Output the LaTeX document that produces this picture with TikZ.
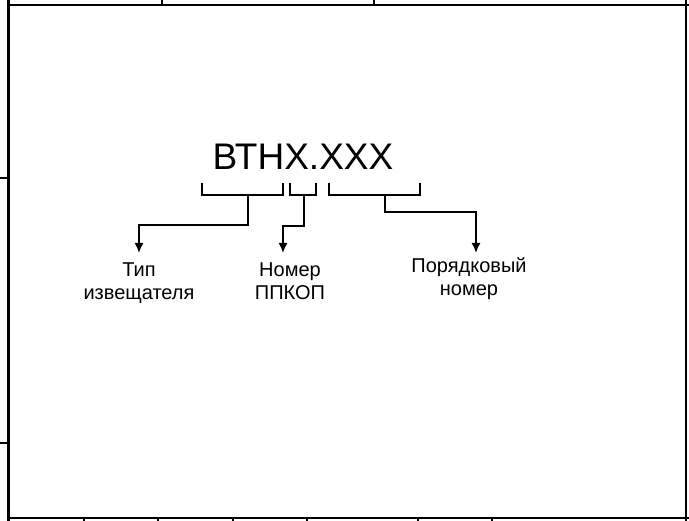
\documentclass[tikz,border=0pt]{standalone}
\usepackage{fontspec}
\setmainfont{Liberation Sans}
\usetikzlibrary{arrows.meta}
\begin{document}
\begin{tikzpicture}[x=1pt,y=-1pt,
  frameline/.style={line width=2pt,black},
  tickline/.style={line width=1.5pt,black},
  brace/.style={line width=1.6pt,black},
  lead/.style={line width=1.6pt,black,-{Latex[length=10pt,width=9pt]}},
  code/.style={font=\fontsize{37}{40}\selectfont,inner sep=0pt,anchor=base},
  caption/.style={font=\fontsize{20}{23}\selectfont,inner sep=0pt,anchor=base,align=center}]
  \useasboundingbox (0,0) rectangle (689,521);
  \fill[white] (0,0) rectangle (689,521);

  % sheet frame
  \draw[line width=3pt] (8.5,0) -- (8.5,521);
  \draw[frameline] (8.5,5) -- (689,5);
  \draw[frameline] (686,0) -- (686,521);
  \draw[frameline] (8.5,518) -- (689,518);
  % frame ticks
  \foreach \tx in {162,374} \draw[tickline] (\tx,0) -- (\tx,5);
  \foreach \tx in {84,158,233,307,418,492} \draw[tickline] (\tx,518) -- (\tx,521);
  \foreach \ty in {178,443} \draw[tickline] (0,\ty) -- (8.5,\ty);

  % designation
  \node[code] (code) at (303,170) {ВТНХ.ХХХ};

  % brackets under the parts of the designation
  \coordinate (b1) at (248,195);
  \coordinate (b2) at (304,195);
  \coordinate (b3) at (385,195);
  \draw[brace] (202,183) -- (202,195) -- (283,195) -- (283,183);
  \draw[brace] (290,183) -- (290,195) -- (316,195) -- (316,183);
  \draw[brace] (329,183) -- (329,195) -- (420,195) -- (420,183);

  % captions (base anchor sits on the last line)
  \node[caption] (type) at (139,300) {Тип\\извещателя};
  \node[caption] (panel) at (290,300) {Номер\\ППКОП};
  \node[caption] (serial) at (469,296) {Порядковый\\номер};

  \coordinate (t1) at (139,253);
  \coordinate (t2) at (283,253);
  \coordinate (t3) at (476,253);

  % leaders
  \draw[lead] (b1) -- (248,225) -- (139,225) -- (t1);
  \draw[lead] (b2) -- (304,226) -- (283,226) -- (t2);
  \draw[lead] (b3) -- (385,212) -- (476,212) -- (t3);
\end{tikzpicture}
\end{document}
